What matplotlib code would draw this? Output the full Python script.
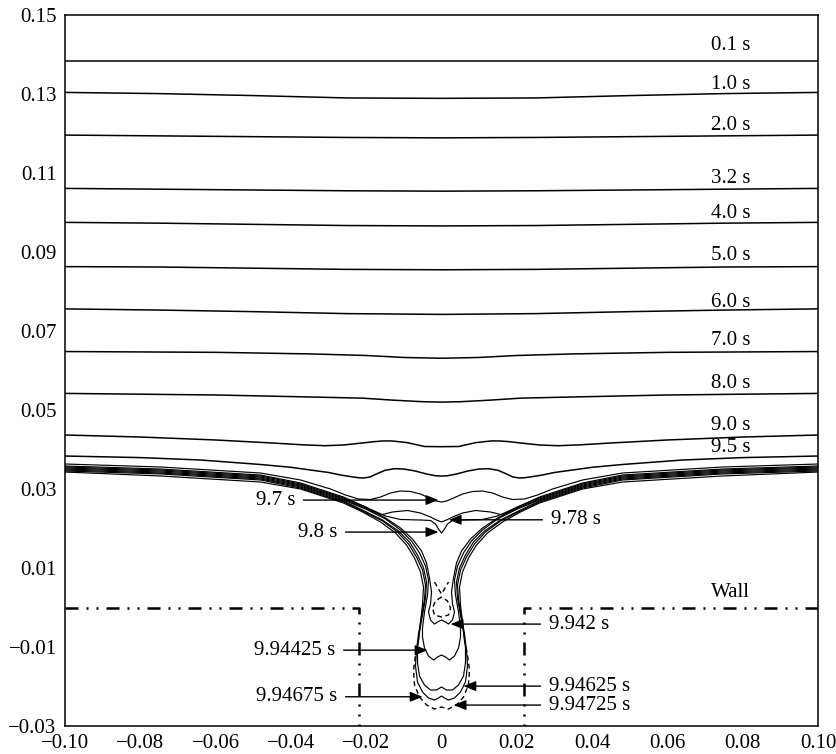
import matplotlib
matplotlib.use('Agg')
import matplotlib.pyplot as plt

plt.rcParams['font.family'] = ['Liberation Serif', 'DejaVu Serif']

# free surface profiles, left half only (the picture is symmetric about x = 0)
x_flat = [-0.1, -0.075, -0.05, -0.025, 0.0]
y_01 = [0.1384, 0.1384, 0.1384, 0.1384, 0.1384]
y_10 = [0.1304, 0.1301, 0.1296, 0.1290, 0.1289]
y_20 = [0.1196, 0.1194, 0.1192, 0.1190, 0.1189]
y_32 = [0.1061, 0.1059, 0.1057, 0.1055, 0.1054]
y_40 = [0.0975, 0.0973, 0.0970, 0.0967, 0.0966]
y_50 = [0.0863, 0.0862, 0.0859, 0.0856, 0.0855]
y_60 = [0.0756, 0.0753, 0.0749, 0.0744, 0.0742]

x_70 = [-0.1, -0.06, -0.035, -0.02, -0.01, 0.0]
y_70 = [0.0648, 0.0646, 0.0642, 0.0638, 0.0633, 0.0631]

x_80 = [-0.1, -0.06, -0.035, -0.021, -0.013, -0.005, 0.0]
y_80 = [0.0542, 0.0538, 0.0533, 0.0530, 0.0525, 0.0521, 0.0520]

x_90 = [-0.1, -0.08, -0.06, -0.045, -0.037, -0.031, -0.026, -0.021, -0.018, -0.0157,
        -0.0135, -0.011, -0.009, -0.0075, -0.0045, 0.0]
y_90 = [0.04367, 0.04316, 0.04241, 0.04165, 0.04119, 0.04096, 0.04114, 0.04165, 0.04198,
        0.04215, 0.04218, 0.04195, 0.04172, 0.04139, 0.04076, 0.04071]

x_95 = [-0.1, -0.08, -0.064, -0.048, -0.040, -0.0348, -0.030, -0.0268, -0.0235, -0.022,
        -0.0207, -0.019, -0.017, -0.015, -0.0125, -0.010, -0.007, -0.004, -0.0015, 0.0]
y_95 = [0.03835, 0.03795, 0.03734, 0.03620, 0.03549, 0.03481, 0.03418, 0.03354, 0.03304,
        0.03285, 0.03278, 0.03304, 0.03392, 0.03473, 0.03514, 0.03506, 0.03456, 0.03380,
        0.03334, 0.03329]

x_97 = [-0.1, -0.07463, -0.04807, -0.03745, -0.02948, -0.02550, -0.02205, -0.01886,
        -0.01620, -0.01355, -0.01089, -0.00823, -0.00558, -0.00292, -0.00133, 0.0]
y_97 = [0.03633, 0.03557, 0.03405, 0.03228, 0.03000, 0.02848, 0.02747, 0.02734,
        0.02797, 0.02899, 0.02949, 0.02937, 0.02873, 0.02759, 0.02696, 0.02671]

x_978 = [-0.1, -0.07463, -0.04807, -0.03745, -0.02603, -0.02019, -0.01620, -0.01301,
         -0.00903, -0.00558, -0.00292, -0.00133, 0.0]
y_978 = [0.03582, 0.03506, 0.03354, 0.03152, 0.02797, 0.02544, 0.02342, 0.02418,
         0.02456, 0.02392, 0.02291, 0.02215, 0.02165]

x_98 = [-0.1, -0.07463, -0.04807, -0.03745, -0.02603, -0.02019, -0.01487, -0.01089,
        -0.00558, -0.00292, -0.00159, -0.00080, 0.0]
y_98 = [0.03557, 0.03481, 0.03329, 0.03127, 0.02772, 0.02544, 0.02316, 0.02228,
        0.02215, 0.02203, 0.02114, 0.01987, 0.01886]

# neck + drop profiles, traced along the interface from the left wall to x = 0
x_9942 = [-0.1, -0.07463, -0.04807, -0.03745, -0.02603, -0.02019, -0.01487, -0.01089,
          -0.00770, -0.00531, -0.00398, -0.00319, -0.00266, -0.00292, -0.00345, -0.00292,
          -0.00186, -0.00106, 0.0]
y_9942 = [0.03532, 0.03456, 0.03304, 0.03101, 0.02747, 0.02519, 0.02266, 0.02013,
          0.01734, 0.01430, 0.01127, 0.00747, 0.00392, 0.00089, -0.00114, -0.00316,
          -0.00418, -0.00367, -0.00316]

x_994425 = [-0.1, -0.07463, -0.04807, -0.03745, -0.02603, -0.02019, -0.01487, -0.01089,
            -0.00797, -0.00584, -0.00425, -0.00345, -0.00372, -0.00452, -0.00505, -0.00505,
            -0.00452, -0.00345, -0.00212, -0.00106, 0.0]
y_994425 = [0.03506, 0.03430, 0.03278, 0.03076, 0.02722, 0.02494, 0.02241, 0.01962,
            0.01684, 0.01380, 0.01051, 0.00696, 0.00316, -0.00114, -0.00519, -0.00747,
            -0.01025, -0.01228, -0.01329, -0.01253, -0.01203]

x_994625 = [-0.1, -0.07463, -0.04807, -0.03745, -0.02603, -0.02098, -0.01567, -0.01142,
            -0.00850, -0.00637, -0.00478, -0.00398, -0.00425, -0.00505, -0.00584, -0.00637,
            -0.00637, -0.00584, -0.00452, -0.00292, -0.00133, 0.0]
y_994625 = [0.03481, 0.03405, 0.03253, 0.03051, 0.02696, 0.02468, 0.02215, 0.01937,
            0.01658, 0.01329, 0.01000, 0.00646, 0.00241, -0.00190, -0.00620, -0.01025,
            -0.01405, -0.01734, -0.01962, -0.02089, -0.02089, -0.02013]

x_994675 = [-0.1, -0.07463, -0.04807, -0.03745, -0.02603, -0.02098, -0.01567, -0.01169,
            -0.00876, -0.00664, -0.00505, -0.00425, -0.00452, -0.00531, -0.00611, -0.00664,
            -0.00691, -0.00637, -0.00505, -0.00345, -0.00186, -0.00080, 0.0]
y_994675 = [0.03456, 0.03380, 0.03228, 0.03025, 0.02671, 0.02443, 0.02190, 0.01911,
            0.01608, 0.01278, 0.00949, 0.00570, 0.00190, -0.00241, -0.00671, -0.01076,
            -0.01481, -0.01886, -0.02139, -0.02291, -0.02342, -0.02291, -0.02241]

# 9.94725 s: solid upper branch, dashed drop, dashed pinched bubble and vee
x_994725_top = [-0.1, -0.07463, -0.04807, -0.03745, -0.02603, -0.02098, -0.01620, -0.01222,
                -0.00930, -0.00717, -0.00558, -0.00478, -0.00505, -0.00558, -0.00611]
y_994725_top = [0.03430, 0.03329, 0.03177, 0.03000, 0.02646, 0.02418, 0.02165, 0.01886,
                0.01582, 0.01253, 0.00899, 0.00519, 0.00063, -0.00367, -0.00823]
x_994725_drop = [-0.00611, -0.00691, -0.00744, -0.00717, -0.00584, -0.00398, -0.00186, 0.0]
y_994725_drop = [-0.00823, -0.01203, -0.01582, -0.01962, -0.02266, -0.02468, -0.02570, -0.02519]
x_994725_bub = [0.0, -0.00159, -0.00239, -0.00186, 0.0]
y_994725_bub = [0.00266, 0.00165, -0.00013, -0.00190, -0.00241]
x_994725_vee = [-0.00186, 0.0]
y_994725_vee = [0.00646, 0.00342]

# wall (dash-dot-dot)
wall_x = [-0.1, -0.022, -0.022]
wall_y = [0.0, 0.0, -0.03]

time_labels = ['0.1 s', '1.0 s', '2.0 s', '3.2 s', '4.0 s', '5.0 s', '6.0 s',
               '7.0 s', '8.0 s', '9.0 s', '9.5 s']
label_y = [0.1424, 0.1325, 0.1219, 0.1087, 0.0997, 0.0890, 0.0772,
           0.0675, 0.0567, 0.0461, 0.0405]

# arrow labels: text, side, arrow tail x, arrow tip x, y
arrow_labels = ['9.7 s', '9.8 s', '9.78 s', '9.942 s', '9.94425 s',
                '9.94625 s', '9.94675 s', '9.94725 s']
arrow_side = ['L', 'L', 'R', 'R', 'L', 'R', 'L', 'R']
arrow_tail = [-0.0367, -0.0255, 0.0268, 0.0263, -0.0260, 0.0263, -0.0255, 0.0263]
arrow_tip = [-0.0008, -0.0008, 0.0019, 0.0024, -0.0037, 0.0058, -0.0050, 0.0032]
arrow_y = [0.0272, 0.0191, 0.0222, -0.0042, -0.0108, -0.0199, -0.0226, -0.0247]

x_ticks = [-0.10, -0.08, -0.06, -0.04, -0.02, 0.0, 0.02, 0.04, 0.06, 0.08, 0.10]
x_tick_labels = ['\u22120.10', '\u22120.08', '\u22120.06', '\u22120.04', '\u22120.02', '0',
                 '0.02', '0.04', '0.06', '0.08', '0.10']
y_ticks = [0.15, 0.13, 0.11, 0.09, 0.07, 0.05, 0.03, 0.01, -0.01, -0.03]
y_tick_labels = ['0.15', '0.13', '0.11', '0.09', '0.07', '0.05', '0.03', '0.01',
                 '\u22120.01', '\u22120.03']


def mirror(xs, ys):
    # reflect a left half-profile about x = 0 and join the two halves
    return list(xs) + [-v for v in xs[-2::-1]], list(ys) + list(ys[-2::-1])


fig = plt.figure(figsize=(8.37, 7.54), dpi=100)
ax = fig.add_axes([65 / 837, 1 - 726 / 754, 753 / 837, 711 / 754])

fs = 15
for xs, ys in [(x_flat, y_01), (x_flat, y_10), (x_flat, y_20), (x_flat, y_32),
               (x_flat, y_40), (x_flat, y_50), (x_flat, y_60), (x_70, y_70),
               (x_80, y_80), (x_90, y_90), (x_95, y_95)]:
    mx, my = mirror(xs, ys)
    ax.plot(mx, my, color='k', lw=1.1, solid_joinstyle='round')

lw = 0.85
for xs, ys in [(x_97, y_97), (x_978, y_978), (x_98, y_98), (x_9942, y_9942),
               (x_994425, y_994425), (x_994625, y_994625), (x_994675, y_994675)]:
    mx, my = mirror(xs, ys)
    ax.plot(mx, my, color='k', lw=lw, solid_joinstyle='round')

# 9.94725 s upper branches (both sides)
ax.plot(x_994725_top, y_994725_top, color='k', lw=lw)
ax.plot([-v for v in x_994725_top], y_994725_top, color='k', lw=lw)
dash = (0, (3.5, 2.5))
for xs, ys in [(x_994725_drop, y_994725_drop), (x_994725_bub, y_994725_bub),
               (x_994725_vee, y_994725_vee)]:
    mx, my = mirror(xs, ys)
    ax.plot(mx, my, color='k', lw=1.0, linestyle=dash)

# wall
wall_style = (0, (5.2, 3.2, 0.8, 3.2, 0.8, 3.2))
ax.plot(wall_x, wall_y, color='k', lw=1.8, linestyle=wall_style)
ax.plot([-v for v in wall_x], wall_y, color='k', lw=1.8, linestyle=wall_style)
ax.text(0.0768, 0.0039, 'Wall', ha='center', va='center', fontsize=fs)

for lab, yy in zip(time_labels, label_y):
    ax.text(0.0767, yy, lab, ha='center', va='center', fontsize=fs)

for lab, side, x0, x1, yy in zip(arrow_labels, arrow_side, arrow_tail, arrow_tip, arrow_y):
    ax.annotate('', xy=(x1, yy), xytext=(x0, yy),
                arrowprops=dict(arrowstyle='-|>,head_length=0.75,head_width=0.3',
                                mutation_scale=10, lw=1.0, color='k',
                                shrinkA=0, shrinkB=0))
    if side == 'L':
        ax.text(x0 - 0.0022, yy, lab, ha='right', va='center', fontsize=fs)
    else:
        ax.text(x0 + 0.0022, yy, lab, ha='left', va='center', fontsize=fs)

ax.set_xlim(-0.1, 0.1)
ax.set_ylim(-0.03, 0.15)
ax.set_xticks(x_ticks)
ax.set_xticklabels(x_tick_labels)
ax.set_yticks(y_ticks)
ax.set_yticklabels(y_tick_labels)
ax.tick_params(length=0, labelsize=fs, pad=6)
for s in ax.spines.values():
    s.set_linewidth(1.1)

fig.savefig('out.png', dpi=100)
